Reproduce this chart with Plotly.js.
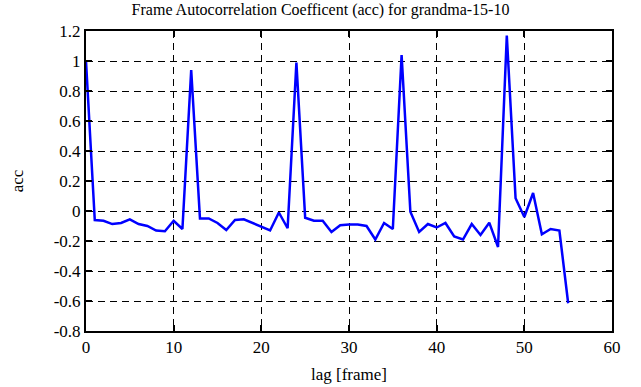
<!DOCTYPE html>
<html>
<head>
<meta charset="utf-8">
<script src="https://cdn.plot.ly/plotly-3.0.1.min.js"></script>
<style>html,body{margin:0;padding:0;background:#fff;}#chart{width:641px;height:387px;}</style>
</head>
<body>
<div id="chart"></div>
<script>
const lags = [0,1,2,3,4,5,6,7,8,9,10,11,12,13,14,15,16,17,18,19,20,21,22,23,24,25,26,27,28,29,30,31,32,33,34,35,36,37,38,39,40,41,42,43,44,45,46,47,48,49,50,51,52,53,54,55];
const acc = [1.0,-0.06,-0.065,-0.087,-0.08,-0.056,-0.087,-0.10,-0.13,-0.135,-0.065,-0.12,0.94,-0.05,-0.05,-0.08,-0.127,-0.06,-0.055,-0.08,-0.11,-0.13,-0.01,-0.115,0.99,-0.045,-0.065,-0.065,-0.14,-0.095,-0.09,-0.09,-0.10,-0.19,-0.08,-0.12,1.04,-0.005,-0.14,-0.087,-0.11,-0.08,-0.17,-0.19,-0.087,-0.16,-0.078,-0.24,1.17,0.085,-0.04,0.12,-0.155,-0.12,-0.13,-0.615];
const xTickVals = [0,10,20,30,40,50,60];
const xTickText = ['0','10','20','30','40','50','60'];
const yTickVals = [-0.8,-0.6,-0.4,-0.2,0,0.2,0.4,0.6,0.8,1,1.2];
const yTickText = ['-0.8','-0.6','-0.4','-0.2','0','0.2','0.4','0.6','0.8','1','1.2'];
const titleText = 'Frame Autocorrelation Coefficent (acc) for grandma-15-10';
const xTitle = 'lag [frame]';
const yTitle = 'acc';

const FAM = 'Liberation Serif';
function f(size) { return {family: FAM, size: size, color: '#000'}; }
const layout = {
  width: 641, height: 387,
  margin: {l: 86, r: 29, t: 31, b: 56},
  paper_bgcolor: '#fff', plot_bgcolor: '#fff',
  showlegend: false,
  font: {family: FAM, size: 17, color: '#000'},
  title: {text: titleText, font: f(16), x: 0.5, xanchor: 'center', y: 0.975, yanchor: 'middle'},
  xaxis: {
    range: [0, 60], tickmode: 'array', tickvals: xTickVals, ticktext: xTickText,
    tickfont: {family: 'Liberation Serif', size: 17, color: '#000'},
    showline: true, linecolor: '#000', linewidth: 2, mirror: 'ticks',
    ticks: 'inside', ticklen: 6, tickwidth: 1.5, tickcolor: '#000',
    showgrid: true, gridcolor: '#000', griddash: '7px,5px', gridwidth: 1, zeroline: false,
    title: {text: xTitle, font: f(17), standoff: 12}
  },
  yaxis: {
    range: [-0.8, 1.2], tickmode: 'array', tickvals: yTickVals, ticktext: yTickText,
    tickfont: {family: 'Liberation Serif', size: 17, color: '#000'},
    showline: true, linecolor: '#000', linewidth: 2, mirror: 'ticks',
    ticks: 'inside', ticklen: 6, tickwidth: 1.5, tickcolor: '#000',
    showgrid: true, gridcolor: '#000', griddash: '7px,5px', gridwidth: 1, zeroline: false,
    title: {text: yTitle, font: f(17), standoff: 26}
  }
};
Plotly.newPlot('chart', [{
  x: lags, y: acc, type: 'scatter', mode: 'lines',
  line: {color: '#0000ff', width: 2.5}
}], layout, {displayModeBar: false}).then(function(gd){
  // ensure tick labels use the serif face
  document.querySelectorAll('.xtick text, .ytick text').forEach(function(t){
    t.style.fontFamily = "'Liberation Serif', serif";
    t.style.fontSize = '17px';
  });
});
</script>
</body>
</html>
